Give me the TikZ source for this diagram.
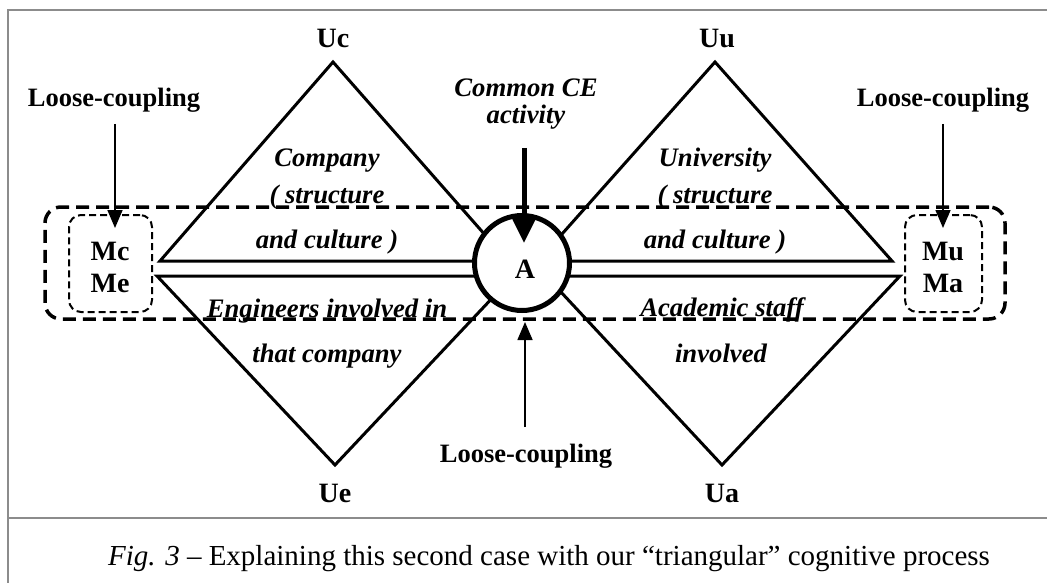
\documentclass[tikz,border=0pt]{standalone}
\usepackage{fontspec}
\setmainfont{Liberation Serif}
\usetikzlibrary{arrows.meta}
\begin{document}
\begin{tikzpicture}[x=1pt,y=-1pt,
  lab/.style={font=\fontsize{26.5}{30}\selectfont\bfseries, anchor=base, inner sep=0pt},
  biglab/.style={font=\fontsize{28}{32}\selectfont\bfseries, anchor=base, inner sep=0pt},
  itl/.style={font=\fontsize{26.7}{30}\selectfont\bfseries\itshape, anchor=base, inner sep=0pt},
  tri/.style={line width=3pt, line join=miter},
  bigdash/.style={draw, line width=3.5pt, dash pattern=on 13pt off 7pt, rounded corners=16pt, inner sep=0pt},
  smalldash/.style={draw, line width=2pt, dash pattern=on 7pt off 4pt, rounded corners=12pt, inner sep=0pt},
  thinarrow/.style={line width=1.6pt, -{Triangle[length=18pt,width=15pt]}},
  thickarrow/.style={line width=5pt, -{Triangle[length=25pt,width=23pt]}},
  frame/.style={draw=black!45, line width=2pt}]
\useasboundingbox (0,0) rectangle (1047,583);
% frame
\draw[frame] (8,583) -- (8,10) -- (1047,10);
\draw[frame] (8,518) -- (1047,518);
% vertices
\coordinate (UcT) at (333,62);
\coordinate (UcL) at (160,261);
\coordinate (UcR) at (508,261);
\coordinate (UeB) at (335,465);
\coordinate (UeL) at (157,276);
\coordinate (UeR) at (513,276);
\coordinate (UuT) at (715,62);
\coordinate (UuL) at (538,261);
\coordinate (UuR) at (892,261);
\coordinate (UaB) at (722,465);
\coordinate (UaL) at (546,276);
\coordinate (UaR) at (900,276);
% triangles
\draw[tri] (UcL) -- (UcT) -- (UcR) -- cycle;
\draw[tri] (UeL) -- (UeB) -- (UeR) -- cycle;
\draw[tri] (UuL) -- (UuT) -- (UuR) -- cycle;
\draw[tri] (UaL) -- (UaB) -- (UaR) -- cycle;
% central circle
\node[circle, draw, line width=5pt, fill=white, minimum size=95pt, inner sep=0pt] (A) at (522,263) {};
\node[biglab] (Alab) at (525,278) {A};
% dashed boxes
\node[bigdash, minimum width=960pt, minimum height=112pt] (outer) at (525,263) {};
\node[smalldash, minimum width=83pt, minimum height=97pt] (boxL) at (110.5,263.5) {};
\node[smalldash, minimum width=77pt, minimum height=97pt] (boxR) at (943.5,263.5) {};
\node[biglab] (Mc) at (110,260) {Mc};
\node[biglab] (Me) at (110,292) {Me};
\node[biglab] (Mu) at (943,260) {Mu};
\node[biglab] (Ma) at (943,292) {Ma};
% vertex labels
\node[biglab] (Uc) at (333,48) {Uc};
\node[biglab] (Uu) at (717,48) {Uu};
\node[biglab] (Ue) at (335,502) {Ue};
\node[biglab] (Ua) at (722,502) {Ua};
% triangle texts
\node[itl] (t1) at (327,167) {Company};
\node[itl] (t2) at (327,203) {( structure};
\node[itl] (t3) at (327,248) {and culture )};
\node[itl] (t4) at (327,317) {Engineers involved in};
\node[itl] (t5) at (327,362) {that company};
\node[itl] (t6) at (715,167) {University};
\node[itl] (t7) at (715,203) {( structure};
\node[itl] (t8) at (715,248) {and culture )};
\node[itl] (t9) at (722,316) {Academic staff};
\node[itl] (t10) at (721,362) {involved};
% loose coupling labels and arrows
\node[lab] (LCL) at (114,107) {Loose-coupling};
\node[lab] (LCR) at (943,107) {Loose-coupling};
\node[lab] (LCB) at (526,462) {Loose-coupling};
\coordinate (LCLs) at (115,124);
\coordinate (LCLt) at (115,228);
\coordinate (LCRs) at (943,124);
\coordinate (LCRt) at (943,228);
\coordinate (LCBs) at (525,427);
\coordinate (LCBt) at (525,322);
\draw[thinarrow] (LCLs) -- (LCLt);
\draw[thinarrow] (LCRs) -- (LCRt);
\draw[thinarrow] (LCBs) -- (LCBt);
% common CE activity
\node[itl] (ce1) at (526,97) {Common CE};
\node[itl] (ce2) at (526,124) {activity};
\coordinate (ceS) at (524,148);
\coordinate (ceT) at (524,243);
\draw[thickarrow] (ceS) -- (ceT);
% caption
\node[anchor=base, inner sep=0pt, font=\fontsize{29}{33}\selectfont] (cap) at (549,565) {\textit{Fig. 3} – Explaining this second case with our “triangular” cognitive process};
\end{tikzpicture}
\end{document}
